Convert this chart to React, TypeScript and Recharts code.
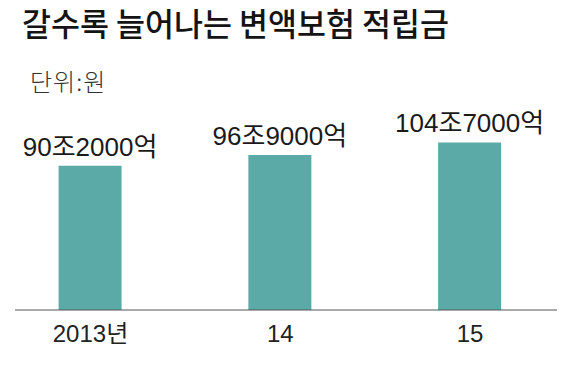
import { Bar, BarChart, LabelList, XAxis, YAxis } from "recharts";

const years = ["2013년", "14", "15"];
const reserves = [90.2, 96.9, 104.7]; // 조원
const valueLabels = ["90조2000억", "96조9000억", "104조7000억"];

const data = years.map((year, i) => ({
  year,
  reserve: reserves[i],
  label: valueLabels[i],
}));

const FONT = '"Noto Sans CJK KR", "Noto Sans", sans-serif';
const NUM_FONT = '"Liberation Sans", "Noto Sans CJK KR", sans-serif';

export default function App() {
  return (
    <div
      style={{
        position: "relative",
        width: 570,
        height: 366,
        margin: -8,
        background: "#fff",
        fontFamily: FONT,
      }}
    >
      <BarChart
        width={570}
        height={366}
        data={data}
        margin={{ top: 118, right: 13, bottom: 15, left: 15 }}
        style={{ position: "absolute", left: 0, top: 0 }}
      >
        <XAxis
          dataKey="year"
          height={41}
          padding={{ left: -19.4, right: -7.9 }}
          tickLine={false}
          tickMargin={9}
          axisLine={{ stroke: "#555", strokeWidth: 1 }}
          tick={{ fill: "#222", fontSize: 24, fontFamily: NUM_FONT }}
        />
        <YAxis hide domain={[0, 120]} />
        <Bar dataKey="reserve" fill="#5BAAA8" barSize={63} isAnimationActive={false}>
          <LabelList
            dataKey="label"
            position="top"
            offset={10}
            fill="#1a1a1a"
            fontSize={26}
            fontFamily={NUM_FONT}
          />
        </Bar>
      </BarChart>
      <div
        style={{
          position: "absolute",
          left: 22,
          top: 4,
          width: 520,
          zIndex: 1,
          fontSize: 31.5,
          fontWeight: 500,
          lineHeight: 1.2,
          color: "#141414",
          whiteSpace: "nowrap",
        }}
      >
        갈수록 늘어나는 변액보험 적립금
      </div>
      <div
        style={{
          position: "absolute",
          left: 30,
          top: 67,
          width: 200,
          zIndex: 1,
          fontSize: 24,
          fontWeight: 300,
          lineHeight: 1.2,
          letterSpacing: 1,
          color: "#333",
          whiteSpace: "nowrap",
        }}
      >
        단위:원
      </div>
    </div>
  );
}
